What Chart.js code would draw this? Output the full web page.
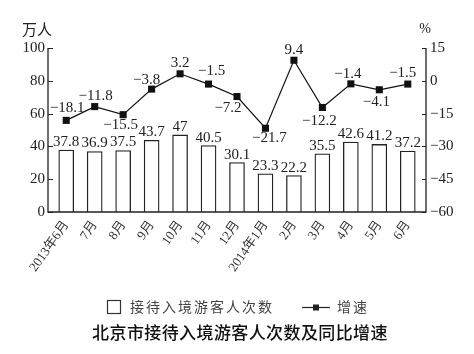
<!DOCTYPE html>
<html>
<head>
<meta charset="utf-8">
<script src="https://cdn.jsdelivr.net/npm/chart.js@4.4.1/dist/chart.umd.min.js"></script>
<style>
  html, body { margin: 0; padding: 0; background: #fff; }
  #wrap { width: 474px; height: 354px; position: relative; }
</style>
</head>
<body>
<div id="wrap"><canvas id="c" width="474" height="354"></canvas></div>
<script>
// ---- data ----
const categories = ['2013年6月','7月','8月','9月','10月','11月','12月','2014年1月','2月','3月','4月','5月','6月'];
const visitors = [37.8, 36.9, 37.5, 43.7, 47, 40.5, 30.1, 23.3, 22.2, 35.5, 42.6, 41.2, 37.2];
const growth = [-18.1, -11.8, -15.5, -3.8, 3.2, -1.5, -7.2, -21.7, 9.4, -12.2, -1.4, -4.1, -1.5];
const leftTicks = [0, 20, 40, 60, 80, 100];
const rightTicks = [-60, -45, -30, -15, 0, 15];
const seriesNames = ['接待入境游客人次数', '增速'];
const chartTitle = '北京市接待入境游客人次数及同比增速';
const leftUnit = '万人';
const rightUnit = '%';

// label placement offsets for growth values (styling)
const growthLabelOffsets = [[1,-12],[1,-11],[-2.5,10],[-5,-9],[0,-11],[3,-13],[-9,12],[4,10],[0,-10],[-3,14],[-3,-10],[-3,12],[-5,-11]];

const SERIF = '"Liberation Serif", "Noto Sans CJK SC", serif';
const CJK = '"Noto Sans CJK SC", sans-serif';
const fmt = v => String(v).replace('-', '\u2212');

const AX_L = 48, AX_R = 426;

const decor = {
  id: 'decor',
  afterDatasetsDraw(chart) {
    const ctx = chart.ctx;
    const area = chart.chartArea;
    const yL = chart.scales.y, yR = chart.scales.y1;
    const bottom = yL.getPixelForValue(0);
    const top = yL.getPixelForValue(100);
    ctx.save();
    // axis lines
    ctx.strokeStyle = '#222';
    ctx.lineWidth = 1.3;
    ctx.beginPath();
    ctx.moveTo(AX_L, top); ctx.lineTo(AX_L, bottom); ctx.lineTo(AX_R, bottom); ctx.lineTo(AX_R, top);
    ctx.stroke();
    // inward ticks
    ctx.lineWidth = 1.2;
    ctx.beginPath();
    leftTicks.forEach(v => { const p = Math.round(yL.getPixelForValue(v)) + 0.5; ctx.moveTo(AX_L, p); ctx.lineTo(AX_L + 5, p); });
    rightTicks.forEach(v => { const p = Math.round(yR.getPixelForValue(v)) + 0.5; ctx.moveTo(AX_R, p); ctx.lineTo(AX_R - 4, p); });
    ctx.stroke();

    // bar value labels
    ctx.fillStyle = '#222';
    ctx.font = '15px ' + SERIF;
    ctx.textAlign = 'center';
    ctx.textBaseline = 'middle';
    const barMeta = chart.getDatasetMeta(0);
    barMeta.data.forEach((el, i) => {
      ctx.fillText(fmt(visitors[i]), el.x, el.y - 8);
    });
    // growth labels
    const lineMeta = chart.getDatasetMeta(1);
    lineMeta.data.forEach((el, i) => {
      const o = growthLabelOffsets[i];
      ctx.fillText(fmt(growth[i]), el.x + o[0], el.y + o[1]);
    });

    // units
    ctx.font = '15px ' + CJK;
    ctx.fillStyle = '#222';
    ctx.fillText(leftUnit, 37, 29);
    ctx.font = '14px ' + SERIF;
    ctx.fillText(rightUnit, 425, 29);

    // legend
    const ly = 307;
    ctx.strokeStyle = '#333';
    ctx.lineWidth = 1.2;
    ctx.strokeRect(107.5, 300.5, 13, 13);
    ctx.font = '14px ' + CJK;
    ctx.fillStyle = '#444';
    ctx.textAlign = 'left';
    try { ctx.letterSpacing = '2px'; } catch (e) {}
    ctx.fillText(seriesNames[0], 130, ly);
    ctx.strokeStyle = '#222';
    ctx.beginPath(); ctx.moveTo(302, ly + 0.5); ctx.lineTo(330, ly + 0.5); ctx.stroke();
    ctx.fillStyle = '#222';
    ctx.fillRect(313, ly - 2.5, 6, 6);
    ctx.fillStyle = '#444';
    ctx.fillText(seriesNames[1], 337, ly);

    // title
    try { ctx.letterSpacing = '0.4px'; } catch (e) {}
    ctx.font = '500 17px ' + CJK;
    ctx.fillStyle = '#111';
    ctx.textAlign = 'center';
    ctx.fillText(chartTitle, 240, 333);
    ctx.restore();
  }
};

new Chart(document.getElementById('c'), {
  data: {
    labels: categories,
    datasets: [
      {
        type: 'bar',
        label: seriesNames[0],
        data: visitors,
        yAxisID: 'y',
        backgroundColor: '#ffffff',
        borderColor: '#222',
        borderWidth: 1.3,
        barThickness: 15,
        order: 2
      },
      {
        type: 'line',
        label: seriesNames[1],
        data: growth,
        yAxisID: 'y1',
        borderColor: '#111',
        borderWidth: 1.2,
        pointStyle: 'rect',
        pointRadius: 5,
        pointBackgroundColor: '#111',
        pointBorderColor: '#111',
        pointBorderWidth: 0,
        tension: 0,
        order: 1
      }
    ]
  },
  options: {
    responsive: false,
    animation: false,
    layout: { padding: { top: 48, left: 0, right: 0, bottom: 0 } },
    plugins: { legend: { display: false }, tooltip: { enabled: false }, title: { display: false } },
    scales: {
      x: {
        offset: true,
        grid: { display: false, drawTicks: false, tickLength: 0 },
        border: { display: false },
        ticks: {
          autoSkip: false, minRotation: 55, maxRotation: 55, padding: 6,
          color: '#333', font: { family: SERIF, size: 13 }
        },
        afterFit(s) { s.height = 142; }
      },
      y: {
        position: 'left',
        min: 0, max: 100,
        afterBuildTicks(s) { s.ticks = leftTicks.map(v => ({ value: v })); },
        grid: { display: false, drawTicks: false, tickLength: 0 },
        border: { display: false },
        ticks: { padding: 7, color: '#222', font: { family: SERIF, size: 15 } },
        afterFit(s) { s.width = 52; }
      },
      y1: {
        position: 'right',
        min: -60, max: 15,
        afterBuildTicks(s) { s.ticks = rightTicks.map(v => ({ value: v })); },
        grid: { display: false, drawTicks: false, tickLength: 0 },
        border: { display: false },
        ticks: { padding: 8, color: '#222', font: { family: SERIF, size: 15 }, callback: v => fmt(v) },
        afterFit(s) { s.width = 52; }
      }
    }
  },
  plugins: [decor]
});
</script>
</body>
</html>
